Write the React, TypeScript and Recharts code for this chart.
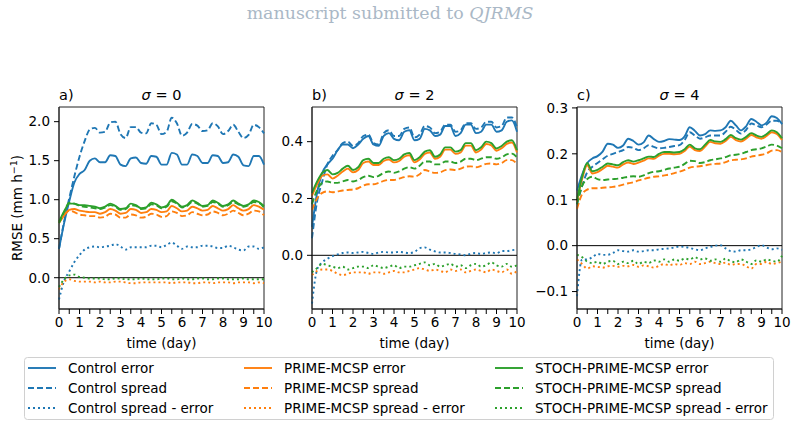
import React from "react"
import { LineChart, Line, XAxis, YAxis, ReferenceLine, ReferenceArea } from "recharts"

// forecast lead time (days)
const days = [
  0, 0.25, 0.5, 0.75, 1, 1.25, 1.5, 1.75, 2, 2.25, 2.5, 2.75, 3, 3.25, 3.5, 3.75, 4, 4.25, 4.5, 4.75,
  5, 5.25, 5.5, 5.75, 6, 6.25, 6.5, 6.75, 7, 7.25, 7.5, 7.75, 8, 8.25, 8.5, 8.75, 9, 9.25, 9.5, 9.75, 10,
]

// sigma = 0
const ctrlErrA = [0.37, 0.70, 0.98, 1.22, 1.33, 1.38, 1.50, 1.53, 1.48, 1.48, 1.57, 1.56, 1.45, 1.43, 1.53, 1.54, 1.47, 1.46, 1.56, 1.55, 1.45, 1.45, 1.60, 1.58, 1.45, 1.45, 1.58, 1.56, 1.47, 1.47, 1.57, 1.56, 1.47, 1.48, 1.58, 1.55, 1.44, 1.43, 1.56, 1.56, 1.45]
const ctrlSprA = [0.37, 0.72, 1.02, 1.30, 1.55, 1.75, 1.90, 1.92, 1.86, 1.87, 1.99, 2.00, 1.84, 1.79, 1.93, 1.93, 1.86, 1.85, 1.98, 1.96, 1.84, 1.87, 2.05, 1.98, 1.82, 1.86, 1.97, 1.95, 1.88, 1.89, 1.98, 1.94, 1.84, 1.88, 1.96, 1.87, 1.79, 1.83, 1.96, 1.93, 1.85]
const ctrlDiffA = [-0.28, -0.04, 0.08, 0.20, 0.29, 0.36, 0.39, 0.40, 0.39, 0.40, 0.41, 0.43, 0.40, 0.36, 0.39, 0.39, 0.39, 0.39, 0.41, 0.41, 0.39, 0.42, 0.45, 0.41, 0.37, 0.40, 0.39, 0.39, 0.41, 0.41, 0.40, 0.38, 0.38, 0.41, 0.39, 0.36, 0.35, 0.40, 0.40, 0.37, 0.39]
const primeErrA = [0.70, 0.80, 0.87, 0.88, 0.86, 0.85, 0.84, 0.84, 0.82, 0.84, 0.88, 0.86, 0.82, 0.83, 0.88, 0.87, 0.83, 0.84, 0.88, 0.87, 0.84, 0.85, 0.92, 0.89, 0.85, 0.86, 0.91, 0.89, 0.86, 0.87, 0.92, 0.89, 0.86, 0.88, 0.93, 0.89, 0.86, 0.88, 0.93, 0.91, 0.87]
const primeSprA = [0.72, 0.80, 0.86, 0.84, 0.81, 0.80, 0.79, 0.79, 0.77, 0.78, 0.82, 0.81, 0.77, 0.77, 0.81, 0.80, 0.77, 0.78, 0.82, 0.81, 0.78, 0.79, 0.85, 0.83, 0.79, 0.80, 0.84, 0.82, 0.80, 0.81, 0.85, 0.83, 0.80, 0.82, 0.86, 0.83, 0.80, 0.82, 0.86, 0.85, 0.80]
const primeDiffA = [-0.15, -0.05, -0.02, -0.04, -0.05, -0.05, -0.05, -0.06, -0.05, -0.06, -0.06, -0.05, -0.05, -0.06, -0.07, -0.07, -0.06, -0.06, -0.06, -0.06, -0.06, -0.06, -0.07, -0.06, -0.06, -0.06, -0.07, -0.07, -0.06, -0.06, -0.07, -0.06, -0.06, -0.06, -0.07, -0.06, -0.06, -0.06, -0.07, -0.06, -0.07]
const stochErrA = [0.72, 0.85, 0.95, 0.95, 0.93, 0.93, 0.92, 0.91, 0.89, 0.91, 0.95, 0.92, 0.88, 0.89, 0.95, 0.93, 0.89, 0.90, 0.96, 0.94, 0.90, 0.92, 1.00, 0.96, 0.91, 0.93, 0.99, 0.96, 0.92, 0.93, 0.99, 0.96, 0.92, 0.94, 0.99, 0.95, 0.92, 0.94, 0.99, 0.97, 0.92]
const stochSprA = [0.70, 0.84, 0.96, 0.95, 0.92, 0.91, 0.90, 0.89, 0.88, 0.90, 0.93, 0.91, 0.87, 0.88, 0.93, 0.92, 0.88, 0.89, 0.94, 0.93, 0.89, 0.91, 0.98, 0.95, 0.90, 0.92, 0.97, 0.95, 0.91, 0.92, 0.97, 0.95, 0.91, 0.93, 0.97, 0.94, 0.91, 0.93, 0.97, 0.96, 0.90]
const stochDiffA = [-0.12, -0.02, 0.03, 0.04, 0.01, 0.0, -0.01, -0.01, -0.01, -0.02, -0.02, -0.01, -0.01, -0.02, -0.02, -0.02, -0.01, -0.02, -0.02, -0.02, -0.01, -0.01, -0.02, -0.02, -0.01, -0.02, -0.02, -0.01, -0.01, -0.02, -0.02, -0.01, -0.01, -0.02, -0.02, -0.02, -0.01, -0.02, -0.02, -0.02, -0.02]

// sigma = 2
const ctrlErrB = [0.10, 0.22, 0.29, 0.32, 0.34, 0.37, 0.39, 0.39, 0.377, 0.39, 0.41, 0.42, 0.39, 0.385, 0.42, 0.43, 0.41, 0.405, 0.435, 0.44, 0.405, 0.41, 0.445, 0.44, 0.42, 0.425, 0.455, 0.455, 0.42, 0.43, 0.46, 0.46, 0.43, 0.435, 0.46, 0.46, 0.435, 0.44, 0.47, 0.475, 0.435]
const ctrlSprB = [0.06, 0.19, 0.26, 0.32, 0.35, 0.37, 0.395, 0.40, 0.385, 0.395, 0.42, 0.425, 0.395, 0.39, 0.43, 0.44, 0.42, 0.42, 0.445, 0.45, 0.415, 0.425, 0.455, 0.45, 0.43, 0.435, 0.46, 0.46, 0.435, 0.44, 0.465, 0.465, 0.445, 0.45, 0.47, 0.47, 0.45, 0.455, 0.485, 0.485, 0.45]
const ctrlDiffB = [-0.17, -0.05, -0.025, -0.012, -0.003, 0.003, 0.008, 0.01, 0.008, 0.01, 0.012, 0.008, 0.005, 0.01, 0.012, 0.01, 0.01, 0.012, 0.01, 0.008, 0.012, 0.025, 0.028, 0.02, 0.014, 0.01, 0.01, 0.008, 0.005, 0.003, 0.0, 0.006, 0.008, 0.005, 0.008, 0.01, 0.007, 0.015, 0.015, 0.018, 0.02]
const primeErrB = [0.21, 0.25, 0.28, 0.285, 0.27, 0.28, 0.295, 0.305, 0.292, 0.30, 0.325, 0.33, 0.318, 0.318, 0.332, 0.337, 0.327, 0.332, 0.347, 0.352, 0.327, 0.337, 0.357, 0.362, 0.34, 0.347, 0.372, 0.372, 0.357, 0.362, 0.386, 0.386, 0.362, 0.372, 0.392, 0.387, 0.368, 0.377, 0.392, 0.397, 0.362]
const primeSprB = [0.16, 0.20, 0.22, 0.225, 0.222, 0.225, 0.228, 0.23, 0.232, 0.236, 0.245, 0.25, 0.25, 0.255, 0.262, 0.265, 0.265, 0.27, 0.275, 0.278, 0.277, 0.285, 0.30, 0.295, 0.29, 0.292, 0.30, 0.302, 0.30, 0.305, 0.312, 0.313, 0.31, 0.315, 0.322, 0.323, 0.32, 0.325, 0.335, 0.335, 0.32]
const primeDiffB = [-0.07, -0.055, -0.05, -0.05, -0.055, -0.065, -0.07, -0.065, -0.06, -0.06, -0.06, -0.065, -0.06, -0.06, -0.065, -0.06, -0.055, -0.06, -0.06, -0.055, -0.05, -0.045, -0.05, -0.055, -0.05, -0.055, -0.06, -0.05, -0.055, -0.05, -0.06, -0.055, -0.05, -0.055, -0.06, -0.05, -0.055, -0.06, -0.05, -0.065, -0.055]
const stochErrB = [0.22, 0.26, 0.29, 0.30, 0.285, 0.29, 0.305, 0.315, 0.30, 0.31, 0.335, 0.34, 0.325, 0.325, 0.34, 0.345, 0.335, 0.34, 0.355, 0.36, 0.335, 0.345, 0.365, 0.37, 0.347, 0.355, 0.38, 0.38, 0.365, 0.37, 0.395, 0.395, 0.37, 0.38, 0.40, 0.395, 0.376, 0.385, 0.40, 0.405, 0.37]
const stochSprB = [0.18, 0.23, 0.255, 0.26, 0.255, 0.255, 0.26, 0.265, 0.26, 0.265, 0.275, 0.28, 0.275, 0.28, 0.29, 0.295, 0.29, 0.295, 0.305, 0.31, 0.305, 0.315, 0.33, 0.33, 0.32, 0.32, 0.33, 0.33, 0.325, 0.33, 0.34, 0.34, 0.335, 0.34, 0.345, 0.345, 0.34, 0.345, 0.355, 0.358, 0.345]
const stochDiffB = [-0.06, -0.045, -0.03, -0.035, -0.04, -0.045, -0.04, -0.05, -0.045, -0.04, -0.04, -0.045, -0.035, -0.04, -0.045, -0.04, -0.035, -0.045, -0.04, -0.04, -0.035, -0.03, -0.025, -0.035, -0.03, -0.04, -0.035, -0.03, -0.04, -0.035, -0.045, -0.035, -0.03, -0.04, -0.035, -0.025, -0.035, -0.04, -0.03, -0.04, -0.035]

// sigma = 4
const ctrlErrC = [0.12, 0.155, 0.18, 0.19, 0.195, 0.205, 0.222, 0.22, 0.213, 0.218, 0.233, 0.228, 0.22, 0.225, 0.24, 0.232, 0.226, 0.228, 0.232, 0.231, 0.23, 0.238, 0.258, 0.25, 0.24, 0.243, 0.251, 0.25, 0.251, 0.258, 0.272, 0.262, 0.251, 0.26, 0.276, 0.27, 0.262, 0.268, 0.282, 0.278, 0.265]
const ctrlSprC = [0.09, 0.13, 0.16, 0.172, 0.18, 0.188, 0.196, 0.2, 0.204, 0.208, 0.215, 0.213, 0.208, 0.212, 0.219, 0.215, 0.212, 0.213, 0.215, 0.217, 0.219, 0.23, 0.247, 0.24, 0.233, 0.236, 0.24, 0.24, 0.24, 0.248, 0.259, 0.252, 0.244, 0.252, 0.266, 0.262, 0.258, 0.264, 0.272, 0.272, 0.265]
const ctrlDiffC = [-0.11, -0.03, -0.03, -0.025, -0.018, -0.02, -0.02, -0.016, -0.01, -0.012, -0.013, -0.01, -0.013, -0.012, -0.01, -0.01, -0.008, -0.007, -0.006, -0.004, -0.002, -0.003, -0.005, -0.008, -0.01, -0.006, -0.003, 0.0, 0.001, -0.006, -0.012, -0.013, -0.01, -0.01, -0.008, -0.003, 0.001, -0.004, -0.008, -0.006, -0.009]
const primeErrC = [0.095, 0.145, 0.175, 0.157, 0.16, 0.167, 0.174, 0.172, 0.17, 0.177, 0.181, 0.178, 0.181, 0.185, 0.19, 0.189, 0.196, 0.2, 0.2, 0.199, 0.2, 0.206, 0.216, 0.208, 0.206, 0.216, 0.226, 0.223, 0.222, 0.228, 0.237, 0.23, 0.227, 0.233, 0.241, 0.236, 0.233, 0.239, 0.247, 0.243, 0.23]
const primeSprC = [0.08, 0.112, 0.122, 0.125, 0.125, 0.126, 0.127, 0.128, 0.13, 0.133, 0.136, 0.138, 0.142, 0.145, 0.148, 0.15, 0.151, 0.153, 0.155, 0.158, 0.161, 0.165, 0.17, 0.172, 0.173, 0.175, 0.177, 0.178, 0.179, 0.182, 0.186, 0.187, 0.188, 0.19, 0.194, 0.196, 0.198, 0.201, 0.207, 0.208, 0.204]
const primeDiffC = [-0.03, -0.04, -0.05, -0.045, -0.046, -0.048, -0.045, -0.044, -0.046, -0.044, -0.045, -0.042, -0.046, -0.043, -0.045, -0.048, -0.044, -0.04, -0.043, -0.04, -0.042, -0.038, -0.04, -0.035, -0.04, -0.038, -0.035, -0.038, -0.04, -0.037, -0.042, -0.04, -0.04, -0.045, -0.05, -0.04, -0.04, -0.035, -0.04, -0.038, -0.035]
const stochErrC = [0.10, 0.15, 0.18, 0.162, 0.165, 0.172, 0.179, 0.177, 0.175, 0.182, 0.186, 0.183, 0.186, 0.19, 0.194, 0.193, 0.2, 0.204, 0.204, 0.203, 0.204, 0.21, 0.22, 0.212, 0.21, 0.22, 0.23, 0.227, 0.226, 0.232, 0.241, 0.234, 0.231, 0.237, 0.245, 0.24, 0.237, 0.243, 0.251, 0.247, 0.234]
const stochSprC = [0.09, 0.13, 0.145, 0.15, 0.145, 0.143, 0.144, 0.145, 0.146, 0.148, 0.15, 0.151, 0.15, 0.153, 0.158, 0.161, 0.162, 0.165, 0.168, 0.17, 0.172, 0.178, 0.185, 0.184, 0.18, 0.182, 0.186, 0.188, 0.19, 0.193, 0.197, 0.198, 0.2, 0.204, 0.208, 0.21, 0.212, 0.216, 0.22, 0.218, 0.212]
const stochDiffC = [-0.02, -0.025, -0.035, -0.038, -0.035, -0.04, -0.035, -0.033, -0.04, -0.035, -0.038, -0.033, -0.04, -0.035, -0.038, -0.032, -0.035, -0.03, -0.035, -0.03, -0.033, -0.028, -0.03, -0.025, -0.03, -0.028, -0.033, -0.03, -0.035, -0.028, -0.034, -0.036, -0.03, -0.035, -0.04, -0.032, -0.035, -0.03, -0.033, -0.035, -0.022]

const xTicks = [0, 0.5, 1, 1.5, 2, 2.5, 3, 3.5, 4, 4.5, 5, 5.5, 6, 6.5, 7, 7.5, 8, 8.5, 9, 9.5, 10]

const models = [
  { key: "ctrl", name: "Control", color: "#1f77b4" },
  { key: "prime", name: "PRIME-MCSP", color: "#ff7f0e" },
  { key: "stoch", name: "STOCH-PRIME-MCSP", color: "#2ca02c" },
]

const styles = [
  { key: "Err", label: "error", dash: undefined },
  { key: "Spr", label: "spread", dash: "6 3" },
  { key: "Diff", label: "spread - error", dash: "2 3" },
]

const panels = [
  {
    letter: "a)",
    sigma: "0",
    left: 0,
    plotW: 205,
    yWidth: 59,
    domain: [-0.401, 2.188],
    yTicks: [0, 0.5, 1, 1.5, 2],
    series: {
      ctrlErr: ctrlErrA, ctrlSpr: ctrlSprA, ctrlDiff: ctrlDiffA,
      primeErr: primeErrA, primeSpr: primeSprA, primeDiff: primeDiffA,
      stochErr: stochErrA, stochSpr: stochSprA, stochDiff: stochDiffA,
    },
  },
  {
    letter: "b)",
    sigma: "2",
    left: 270,
    plotW: 205,
    yWidth: 42,
    domain: [-0.189, 0.522],
    yTicks: [0, 0.2, 0.4],
    series: {
      ctrlErr: ctrlErrB, ctrlSpr: ctrlSprB, ctrlDiff: ctrlDiffB,
      primeErr: primeErrB, primeSpr: primeSprB, primeDiff: primeDiffB,
      stochErr: stochErrB, stochSpr: stochSprB, stochDiff: stochDiffB,
    },
  },
  {
    letter: "c)",
    sigma: "4",
    left: 521,
    plotW: 205,
    yWidth: 56,
    domain: [-0.138, 0.302],
    yTicks: [-0.1, 0, 0.1, 0.2, 0.3],
    series: {
      ctrlErr: ctrlErrC, ctrlSpr: ctrlSprC, ctrlDiff: ctrlDiffC,
      primeErr: primeErrC, primeSpr: primeSprC, primeDiff: primeDiffC,
      stochErr: stochErrC, stochSpr: stochSprC, stochDiff: stochDiffC,
    },
  },
]

const FONT = "DejaVu Sans"
const tickStyle = { fontFamily: FONT, fontSize: 13.5, fill: "#000" }
const spine = { stroke: "#222", strokeWidth: 1 }
const CHART_H = 353
const TOP = 107
const RIGHT_PAD = 14

const fmtY = (v: number) => (v < 0 ? "\u2212" : "") + Math.abs(v).toFixed(1)
const fmtX = (v: number) => (Number.isInteger(v) ? String(v) : "")

function Panel({ p }: { p: (typeof panels)[number] }) {
  const rows = days.map((t, i) => {
    const row: Record<string, number> = { t }
    for (const [k, arr] of Object.entries(p.series)) row[k] = arr[i]
    return row
  })
  const width = p.yWidth + p.plotW + RIGHT_PAD
  const mid = p.yWidth + p.plotW / 2

  return (
    <div style={{ position: "absolute", left: p.left, top: 0 }}>
      <LineChart width={width} height={CHART_H} data={rows} margin={{ top: TOP, right: RIGHT_PAD, bottom: 0, left: 0 }}>
        <XAxis
          dataKey="t"
          type="number"
          domain={[0, 10]}
          ticks={xTicks}
          interval={0}
          tickFormatter={fmtX}
          tick={tickStyle}
          tickSize={5}
          tickMargin={3}
          axisLine={spine}
          tickLine={{ stroke: "#000" }}
          height={44}
          label={{ value: "time (day)", position: "insideBottom", offset: 5, style: { ...tickStyle, textAnchor: "middle" } }}
        />
        <YAxis
          type="number"
          domain={p.domain}
          allowDataOverflow
          ticks={p.yTicks}
          interval={0}
          tickFormatter={fmtY}
          tick={tickStyle}
          tickSize={5}
          tickMargin={4}
          axisLine={spine}
          tickLine={{ stroke: "#000" }}
          width={p.yWidth}
        />
        {/* closed frame around the axes */}
        <ReferenceArea
          x1={0}
          x2={10}
          y1={p.domain[0]}
          y2={p.domain[1]}
          fill="none"
          stroke="#222"
          strokeWidth={1}
          ifOverflow="visible"
        />
        <ReferenceLine y={0} stroke="#000" strokeWidth={1} />
        {models.map((m) =>
          styles.map((s) => (
            <Line
              key={m.key + s.key}
              dataKey={m.key + s.key}
              type="monotone"
              stroke={m.color}
              strokeWidth={1.9}
              strokeDasharray={s.dash}
              dot={false}
              isAnimationActive={false}
            />
          )),
        )}
      </LineChart>
      <svg width={width} height={TOP} style={{ position: "absolute", left: 0, top: 0, pointerEvents: "none" }}>
        <text x={p.yWidth} y={100} fontFamily={FONT} fontSize={14.5}>
          {p.letter}
        </text>
        <text x={mid} y={100} fontFamily={FONT} fontSize={14.5} textAnchor="middle">
          <tspan fontStyle="italic">σ</tspan>
          <tspan> = {p.sigma}</tspan>
        </text>
      </svg>
    </div>
  )
}

function LegendBox() {
  const colX = [28, 244, 495]
  const rowY = [368, 388, 408]
  return (
    <svg width={796} height={429} style={{ position: "absolute", left: 0, top: 0, pointerEvents: "none" }}>
      <text x={390} y={19} textAnchor="middle" fontFamily="DejaVu Serif" fontSize={17.4} fill="#aab8c6">
        manuscript submitted to <tspan fontStyle="italic">QJRMS</tspan>
      </text>
      <text transform="rotate(-90)" x={-208} y={22} textAnchor="middle" fontFamily={FONT} fontSize={13.5}>
        RMSE (mm h<tspan dy={-5} fontSize={9.5}>−1</tspan>
        <tspan dy={5}>)</tspan>
      </text>
      <rect x={24.5} y={357.5} width={749} height={62} rx={3} fill="#fff" fillOpacity={0.8} stroke="#d0d0d0" />
      {models.map((m, ci) =>
        styles.map((s, ri) => (
          <g key={m.key + s.key}>
            <line
              x1={colX[ci]}
              x2={colX[ci] + 28}
              y1={rowY[ri]}
              y2={rowY[ri]}
              stroke={m.color}
              strokeWidth={1.9}
              strokeDasharray={s.dash}
            />
            <text x={colX[ci] + 40} y={rowY[ri]} dy="0.35em" fontFamily={FONT} fontSize={13.5}>
              {m.name} {s.label}
            </text>
          </g>
        )),
      )}
    </svg>
  )
}

export default function App() {
  return (
    <div style={{ position: "absolute", left: 0, top: 0, width: 796, height: 429, background: "#fff", overflow: "hidden" }}>
      {panels.map((p) => (
        <Panel key={p.letter} p={p} />
      ))}
      <LegendBox />
    </div>
  )
}
